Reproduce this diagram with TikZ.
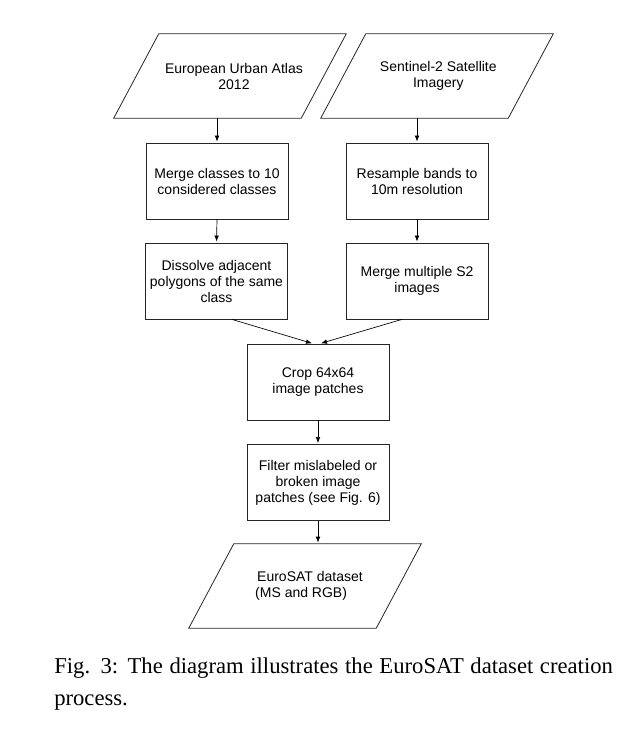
\documentclass[tikz,border=0pt]{standalone}
\usepackage{fontspec}
\setmainfont{Liberation Serif}
\newfontfamily\diagfont{Liberation Sans}
\usetikzlibrary{arrows.meta}

\begin{document}
\begin{tikzpicture}[x=0.75pt,y=0.75pt,yscale=-1,xscale=1,
  procbox/.style={draw=black!85,line width=0.6pt,minimum width=106.5pt,minimum height=57pt,inner sep=0.75pt,align=center,font=\diagfont\fontsize{10.5}{12}\selectfont},
  databox/.style={minimum width=140.25pt,minimum height=63pt,inner sep=0.75pt,font=\diagfont\fontsize{10.5}{12}\selectfont},
  flow/.style={-{Latex[length=4.5pt,width=3.5pt]},line width=0.5pt,shorten >=0.8pt}]

\useasboundingbox (0,0) rectangle (622,732);

% inputs
\node [databox,align=center] (atlas) at (230,76) {\hspace*{6pt}European Urban Atlas\\\hspace*{6pt}2012};

\node [databox,align=center] (sentinel) at (437,76) {\hspace*{2pt}Sentinel-2 Satellite\\\hspace*{2pt}Imagery};

% two branches
\node [procbox] (mergecls) at (217,181) {Merge classes to 10\\considered classes};

\node [procbox] (resample) at (417,181) {Resample bands to\\10m resolution};

\node [procbox] (dissolve) at (216.5,281) {Dissolve adjacent\\polygons of the same\\class};

\node [procbox] (mergeimg) at (417,281) {Merge multiple S2\\images};

% common part
\node [procbox] (crop) at (318,382) {Crop 64x64\\image patches};

\node [procbox] (filter) at (318,482.5) {Filter mislabeled or\\broken image\\patches (see Fig. 6)};

\node [databox,align=left] (eurosat) at (305,586) {\hspace*{7.5pt}EuroSAT dataset\\\hspace*{6pt}(MS and RGB)};

% parallelograms round the data nodes
\foreach \n in {atlas,sentinel,eurosat}
  \draw [black!85,line width=0.6pt] ([xshift=16.9pt]\n.north west) -- ([xshift=16.9pt]\n.north east) -- ([xshift=-16.9pt]\n.south east) -- ([xshift=-16.9pt]\n.south west) -- cycle;

\draw [flow] (atlas.south -| mergecls.north) -- (mergecls.north);

\draw [flow] (sentinel.south -| resample.north) -- (resample.north);

\draw [flow] (mergecls.south) -- (dissolve.north);

\draw [flow] (resample.south) -- (dissolve.north -| resample.south);

\draw [flow] ([xshift=11.6pt]dissolve.south) -- ([xshift=-3.75pt]crop.north);

\draw [flow] ([xshift=-11.3pt]mergeimg.south) -- ([xshift=1.5pt]crop.north);

\draw [flow] (crop.south) -- (filter.north);

\draw [flow] (filter.south) -- (filter.south |- eurosat.north);

% caption
\node [anchor=north west,inner sep=0pt,text width=419pt,align=justify,font=\fontsize{17}{24}\selectfont] (caption) at (54,657) {Fig. 3: The diagram illustrates the EuroSAT dataset creation process.};

\end{tikzpicture}
\end{document}
